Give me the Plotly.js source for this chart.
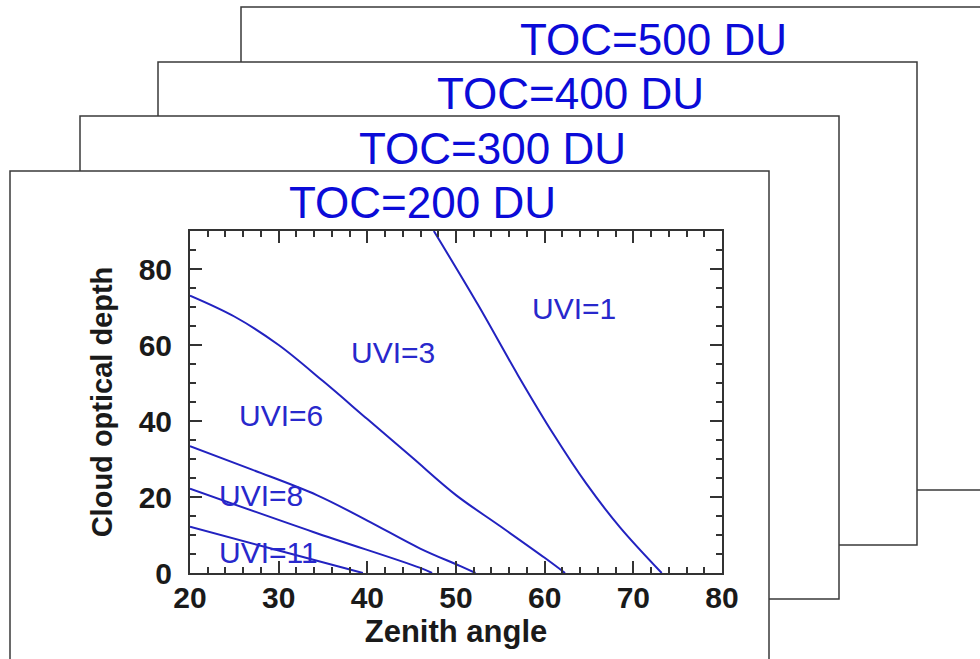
<!DOCTYPE html>
<html>
<head>
<meta charset="utf-8">
<script src="https://cdn.plot.ly/plotly-3.0.1.min.js"></script>
<style>
html,body{margin:0;padding:0;background:#fff;}
#chart{width:980px;height:659px;}
</style>
</head>
<body>
<div id="chart"></div>
<script>
// ---- data ----
var panelTitles = ['TOC=500 DU', 'TOC=400 DU', 'TOC=300 DU', 'TOC=200 DU'];

var uvi1_x  = [47.5, 52.5, 57.0, 61.0, 64.7, 68.5, 73.2];
var uvi1_y  = [90.0, 70.5, 52.0, 36.5, 23.5, 12.0, 0.0];

var uvi3_x  = [20.0, 25.0, 30.0, 35.0, 40.0, 45.0, 50.0, 55.0, 60.0, 62.3];
var uvi3_y  = [73.0, 67.5, 60.0, 50.5, 40.5, 30.5, 20.5, 12.3, 4.0, 0.0];

var uvi6_x  = [20.0, 27.0, 34.3, 40.0, 45.9, 50.5, 52.2];
var uvi6_y  = [33.4, 27.2, 20.5, 13.8, 6.5, 1.8, 0.0];

var uvi8_x  = [20.0, 33.9, 45.9, 47.3];
var uvi8_y  = [22.2, 10.8, 1.4, 0.0];

var uvi11_x = [20.0, 30.0, 39.5];
var uvi11_y = [12.2, 5.9, 0.0];

var labelText = ['UVI=1', 'UVI=3', 'UVI=6', 'UVI=8', 'UVI=11'];
var labelX    = [63.3, 42.9, 30.3, 28.0, 28.9];
var labelY    = [69.5, 57.9, 41.4, 20.5, 5.5];

// ---- layout geometry (pixels) ----
var W = 980, H = 659;
var plotL = 190, plotR = 722, plotT = 231, plotB = 573;
var cardLeft = [241, 158, 80, 10];
var cardTop  = [7, 62, 116, 171];
var cardW = 759, cardH = 483;
var titleDX = 412, titleDY = 32;

function px(x){ return (x - plotL) / (plotR - plotL); }
function py(y){ return (plotB - y) / (plotB - plotT); }

var lineColor = '#2222c0';
function curve(x, y, name){
  return {x:x, y:y, type:'scatter', mode:'lines', name:name,
          line:{color:lineColor, width:2, shape:'spline', smoothing:1},
          hoverinfo:'x+y'};
}
var traces = [
  curve(uvi1_x, uvi1_y, 'UVI=1'),
  curve(uvi3_x, uvi3_y, 'UVI=3'),
  curve(uvi6_x, uvi6_y, 'UVI=6'),
  curve(uvi8_x, uvi8_y, 'UVI=8'),
  curve(uvi11_x, uvi11_y, 'UVI=11')
];

var shapes = [];
var annotations = [];
for (var i = 0; i < cardLeft.length; i++){
  var bottom = (i === cardLeft.length - 1) ? H + 20 : cardTop[i] + cardH;
  shapes.push({type:'rect', xref:'paper', yref:'paper', layer:'below',
    x0:px(cardLeft[i]), x1:px(cardLeft[i] + cardW),
    y0:py(cardTop[i]), y1:py(bottom),
    fillcolor:'#ffffff', line:{color:'#3a3a3a', width:1.5}});
  annotations.push({xref:'paper', yref:'paper', showarrow:false,
    x:px(cardLeft[i] + titleDX), y:py(cardTop[i] + titleDY),
    xanchor:'center', yanchor:'middle', text:panelTitles[i],
    font:{family:'Liberation Sans, Arial, sans-serif', size:44, color:'#0b0bd8'}});
}
for (var j = 0; j < labelText.length; j++){
  annotations.push({xref:'x', yref:'y', x:labelX[j], y:labelY[j], showarrow:false,
    xanchor:'center', yanchor:'middle', text:labelText[j],
    font:{family:'Liberation Sans, Arial, sans-serif', size:30, color:'#2828cc'}});
}

var axisCommon = {
  showline:true, linecolor:'#333', linewidth:2, mirror:'ticks',
  ticks:'inside', ticklen:12, tickwidth:2, tickcolor:'#333',
  showgrid:false, zeroline:false,
  tickfont:{family:'Liberation Sans, Arial, sans-serif', size:30, color:'#1a1a1a', weight:'bold'}
};

var layout = {
  width:W, height:H,
  margin:{l:plotL, r:W - plotR, t:plotT, b:H - plotB, pad:0},
  paper_bgcolor:'#ffffff', plot_bgcolor:'rgba(0,0,0,0)',
  showlegend:false,
  xaxis:Object.assign({}, axisCommon, {
    range:[20, 80], dtick:10, tick0:20,
    minor:{dtick:2, ticks:'inside', ticklen:6, tickwidth:2, tickcolor:'#333'},
    ticklabelstandoff:-3,
    title:{text:'Zenith angle', standoff:4,
      font:{family:'Liberation Sans, Arial, sans-serif', size:31, color:'#1a1a1a', weight:'bold'}}
  }),
  yaxis:Object.assign({}, axisCommon, {
    range:[0, 90], dtick:20, tick0:0,
    minor:{dtick:5, ticks:'inside', ticklen:6, tickwidth:2, tickcolor:'#333'},
    ticklabelstandoff:10,
    title:{text:'Cloud optical depth', standoff:17,
      font:{family:'Liberation Sans, Arial, sans-serif', size:29, color:'#1a1a1a', weight:'bold'}}
  }),
  shapes:shapes,
  annotations:annotations
};

Plotly.newPlot('chart', traces, layout, {displayModeBar:false, staticPlot:true});
</script>
</body>
</html>
